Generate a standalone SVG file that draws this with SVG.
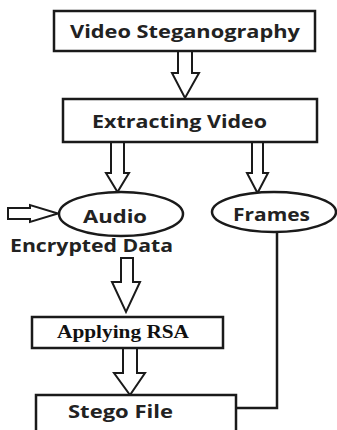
<svg xmlns="http://www.w3.org/2000/svg" width="337" height="430" viewBox="0 0 337 430">
<style>
.box{fill:#fff;stroke:#1a1a1a;stroke-width:2.5}
.arr{fill:#fff;stroke:#1a1a1a;stroke-width:2;stroke-linejoin:miter}
.line{fill:none;stroke:#1a1a1a;stroke-width:2.5}
.t{font-family:"Open Sans","Liberation Sans",sans-serif;font-weight:bold;font-size:18px;fill:#222;text-anchor:start}
.ts{font-family:"Liberation Serif","Times New Roman",serif;font-weight:bold;font-size:18.5px;fill:#111}
</style>
<rect width="337" height="430" fill="#fff"/>
<g id="connectors">
<polygon class="arr" points="178,51 192,51 192,73 199,73 185,98 172,73 178,73"/>
<polygon class="arr" points="111,142 124,142 124,173 129,173 117.5,192 106,173 111,173"/>
<polygon class="arr" points="252,142 263,142 263,173 268,173 257.5,193 247,173 252,173"/>
<polygon class="arr" points="8,208 30,208 30,205 58,213.5 30,222 30,219 8,219"/>
<polygon class="arr" points="121,258 133,258 133,282 140,282 126,312 112,282 121,282"/>
<polygon class="arr" points="123,348 137,348 137,373 145,373 130,395 114,373 123,373"/>
<polyline class="line" points="277,232 277,408 236,408"/>
</g>
<g id="video-steganography">
<rect class="box" x="54" y="11" width="261" height="40"/>
<text class="t" x="70" y="38" textLength="230" lengthAdjust="spacingAndGlyphs">Video Steganography</text>
</g>
<g id="extracting-video">
<rect class="box" x="63" y="99" width="254" height="43"/>
<text class="t" x="92" y="128" textLength="175" lengthAdjust="spacingAndGlyphs">Extracting Video</text>
</g>
<g id="audio">
<ellipse class="box" cx="121" cy="214" rx="62" ry="22"/>
<text class="t" x="83" y="223" textLength="64" lengthAdjust="spacingAndGlyphs">Audio</text>
</g>
<g id="frames">
<ellipse class="box" cx="274" cy="212" rx="62" ry="20"/>
<text class="t" x="233" y="221" textLength="77" lengthAdjust="spacingAndGlyphs">Frames</text>
</g>
<g id="encrypted-data">
<text class="t" x="10" y="252" textLength="163" lengthAdjust="spacingAndGlyphs">Encrypted Data</text>
</g>
<g id="applying-rsa">
<rect class="box" x="32" y="317" width="191" height="31"/>
<text class="ts" x="57" y="338" textLength="132" lengthAdjust="spacingAndGlyphs">Applying RSA</text>
</g>
<g id="stego-file">
<rect class="box" x="36" y="395" width="200" height="50"/>
<text class="t" x="68" y="418" textLength="105" lengthAdjust="spacingAndGlyphs">Stego File</text>
</g>
</svg>
